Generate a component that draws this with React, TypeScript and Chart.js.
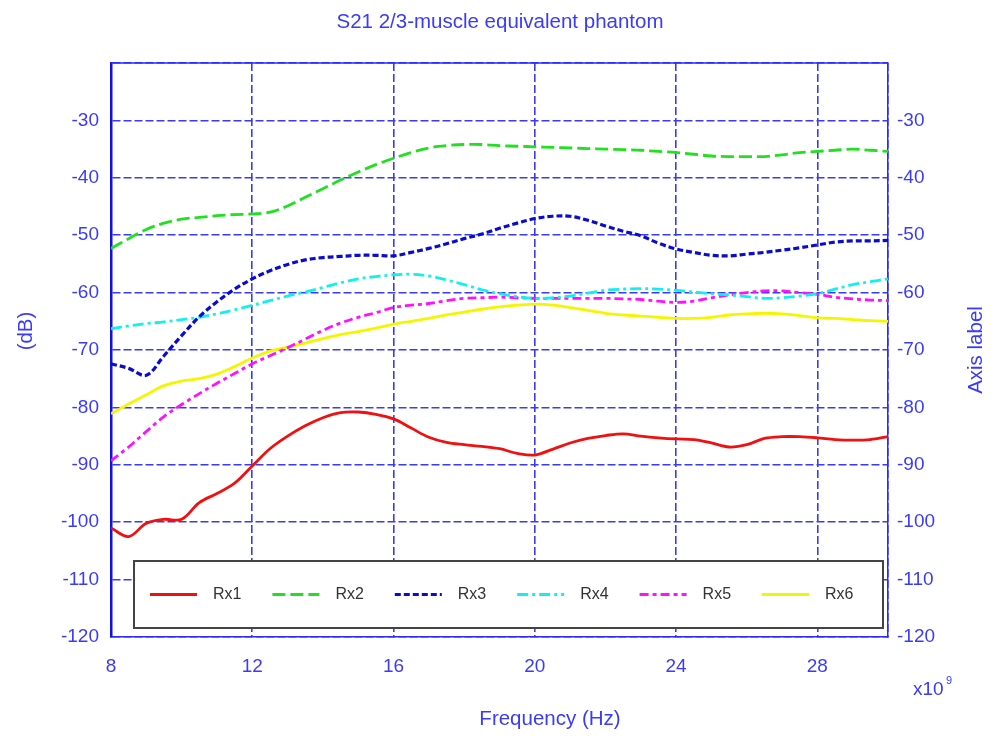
import { useEffect, useRef } from "react";
import Chart from "chart.js/auto";

// frequency in GHz (axis shows x10^9)
const freq = [
  8, 8.5, 9, 9.5, 10, 10.5, 11, 11.5, 12, 12.5, 13, 13.5, 14, 14.5, 15, 15.5,
  16, 16.5, 17, 17.5, 18, 18.5, 19, 19.5, 20, 20.5, 21, 21.5, 22, 22.5, 23,
  23.5, 24, 24.5, 25, 25.5, 26, 26.5, 27, 27.5, 28, 28.5, 29, 29.5, 30,
];

const rx1 = [
  -101.0, -102.5, -100.2, -99.5, -99.5, -96.6, -95.0, -93.2, -90.2, -87.2,
  -85.0, -83.2, -81.8, -80.9, -80.8, -81.2, -82.0, -83.6, -85.2, -86.1, -86.5,
  -86.8, -87.2, -88.0, -88.3, -87.3, -86.2, -85.4, -84.9, -84.6, -85.0, -85.3,
  -85.5, -85.6, -86.2, -86.9, -86.5, -85.4, -85.1, -85.1, -85.3, -85.6, -85.7,
  -85.6, -85.1,
];
const rx2 = [
  -52.3, -50.6, -49.0, -47.9, -47.2, -46.9, -46.6, -46.4, -46.3, -46.0, -44.9,
  -43.4, -41.9, -40.4, -39.0, -37.7, -36.6, -35.6, -34.8, -34.4, -34.2, -34.2,
  -34.4, -34.5, -34.6, -34.7, -34.8, -34.9, -35.0, -35.1, -35.2, -35.4, -35.6,
  -35.9, -36.2, -36.3, -36.3, -36.3, -36.0, -35.6, -35.4, -35.2, -35.0, -35.2,
  -35.4,
];
const rx3 = [
  -72.4, -73.2, -74.4, -71.0, -67.5, -64.2, -61.6, -59.4, -57.6, -56.2, -55.1,
  -54.3, -53.9, -53.7, -53.5, -53.5, -53.6, -53.0, -52.3, -51.5, -50.6, -49.8,
  -48.8, -47.9, -47.1, -46.7, -46.7, -47.4, -48.4, -49.3, -50.1, -51.4, -52.4,
  -53.0, -53.5, -53.6, -53.3, -53.0, -52.6, -52.2, -51.7, -51.2, -51.0, -51.0,
  -50.9,
];
const rx4 = [
  -66.3, -65.8, -65.4, -65.1, -64.7, -64.3, -63.7, -63.0, -62.2, -61.4, -60.6,
  -59.9, -59.1, -58.3, -57.6, -57.2, -56.9, -56.8, -57.1, -57.8, -58.6, -59.5,
  -60.2, -60.7, -61.0, -60.9, -60.6, -60.1, -59.6, -59.4, -59.3, -59.4, -59.6,
  -59.9, -60.2, -60.4, -60.7, -61.0, -60.9, -60.6, -60.2, -59.4, -58.6, -58.1,
  -57.6,
];
const rx5 = [
  -89.3, -86.9, -84.2, -81.6, -79.5, -77.6, -75.8, -74.1, -72.4, -71.0, -69.6,
  -68.1, -66.6, -65.3, -64.3, -63.5, -62.6, -62.2, -61.9, -61.4, -61.0, -60.9,
  -60.8, -60.9, -61.0, -61.0, -61.0, -61.0, -61.0, -61.1, -61.2, -61.5, -61.7,
  -61.5, -60.9, -60.4, -60.0, -59.7, -59.7, -60.0, -60.3, -60.8, -61.1, -61.3,
  -61.4,
];
const rx6 = [
  -81.1, -79.4, -77.8, -76.2, -75.4, -75.0, -74.2, -72.9, -71.4, -70.2, -69.5,
  -68.8, -68.0, -67.3, -66.8, -66.2, -65.5, -65.0, -64.5, -63.9, -63.4, -62.9,
  -62.5, -62.2, -62.0, -62.2, -62.6, -63.1, -63.6, -63.9, -64.1, -64.3, -64.5,
  -64.5, -64.3, -63.9, -63.7, -63.6, -63.7, -64.0, -64.4, -64.5, -64.7, -64.9,
  -65.0,
];

const seriesNames = ["Rx1", "Rx2", "Rx3", "Rx4", "Rx5", "Rx6"];
const seriesValues = [rx1, rx2, rx3, rx4, rx5, rx6];
const seriesColors = ["#f01010", "#20e020", "#0a0ad0", "#10f0f0", "#ff10ff", "#f5f500"];
const seriesDash = [[], [13, 5], [6, 3], [11, 4, 3, 4], [9, 4, 4, 4], []];
const seriesWidth = [2.8, 2.8, 3.2, 2.8, 2.8, 2.8];

const BLUE = "#3a3aff";
const FONT = "'Liberation Sans', Arial, sans-serif";

const framePlugin = {
  id: "frame",
  afterDatasetsDraw(chart: any) {
    const { ctx, chartArea: a } = chart;
    ctx.save();
    // top border
    ctx.strokeStyle = "#2a2aff";
    ctx.lineWidth = 1.5;
    ctx.beginPath();
    ctx.moveTo(a.left, a.top);
    ctx.lineTo(a.right, a.top);
    ctx.stroke();

    // legend box
    const bx = a.left + 23;
    const by = a.bottom - 76;
    const bw = a.right - 5 - bx;
    const bh = 67;
    ctx.fillStyle = "#ffffff";
    ctx.fillRect(bx, by, bw, bh);
    ctx.strokeStyle = "#444444";
    ctx.lineWidth = 2;
    ctx.strokeRect(bx, by, bw, bh);
    const cy = by + bh / 2;
    ctx.font = `16px ${FONT}`;
    ctx.textBaseline = "middle";
    chart.data.datasets.forEach((ds: any, i: number) => {
      const sx = bx + 16 + i * 122.4;
      ctx.strokeStyle = ds.borderColor;
      ctx.lineWidth = ds.borderWidth;
      ctx.setLineDash(ds.borderDash || []);
      ctx.beginPath();
      ctx.moveTo(sx, cy);
      ctx.lineTo(sx + 47, cy);
      ctx.stroke();
      ctx.setLineDash([]);
      ctx.fillStyle = "#333333";
      ctx.textAlign = "left";
      ctx.fillText(ds.label, sx + 63, cy);
    });

    // axis titles
    ctx.fillStyle = BLUE;
    ctx.font = `20.5px ${FONT}`;
    ctx.textAlign = "center";
    ctx.fillText("Frequency (Hz)", 550, 719);

    ctx.save();
    ctx.translate(26, 331);
    ctx.rotate(-Math.PI / 2);
    ctx.fillText("(dB)", 0, 0);
    ctx.restore();

    ctx.save();
    ctx.translate(976, (a.top + a.bottom) / 2);
    ctx.rotate(-Math.PI / 2);
    ctx.fillText("Axis label", 0, 0);
    ctx.restore();

    // exponent
    ctx.textAlign = "left";
    ctx.font = `19px ${FONT}`;
    ctx.fillText("x10", 913, 690);
    ctx.font = `11px ${FONT}`;
    ctx.fillText("9", 946, 681);
    ctx.restore();
  },
};

const App = () => {
  const chartRef = useRef<HTMLCanvasElement>(null);

  useEffect(() => {
    if (!chartRef.current) return;
    document.body.style.margin = "0";

    const datasets = seriesNames.map((name, i) => ({
      label: name,
      data: freq.map((f, j) => ({ x: f, y: seriesValues[i][j] })),
      borderColor: seriesColors[i],
      backgroundColor: seriesColors[i],
      borderWidth: seriesWidth[i],
      borderDash: seriesDash[i],
      pointRadius: 0,
      tension: 0.35,
      fill: false,
    }));

    const tickFont = { family: FONT, size: 19 };
    const gridOpts = { color: "#3a3aff", lineWidth: 1.6, drawTicks: false };

    const chart = new Chart(chartRef.current, {
      type: "line",
      data: { datasets },
      plugins: [framePlugin],
      options: {
        animation: false,
        responsive: false,
        layout: { padding: 0 },
        plugins: {
          legend: { display: false },
          tooltip: { enabled: false },
          title: {
            display: true,
            text: "S21 2/3-muscle equivalent phantom",
            color: BLUE,
            font: { family: FONT, size: 20.5, weight: "normal" },
            padding: { top: 10, bottom: 28.4 },
          },
        },
        scales: {
          x: {
            type: "linear",
            min: 8,
            max: 30,
            afterFit: (s: any) => {
              s.height = 109;
            },
            ticks: {
              stepSize: 4,
              color: BLUE,
              font: tickFont,
              padding: 18,
              maxRotation: 0,
              callback: (v: any) => (v % 4 === 0 ? v : ""),
            },
            grid: gridOpts,
            border: { color: "#2a2aff", width: 1.5, dash: [8, 3] },
          },
          y: {
            type: "linear",
            position: "left",
            min: -120,
            max: -20,
            afterFit: (s: any) => {
              s.width = 111;
            },
            ticks: {
              stepSize: 10,
              color: BLUE,
              font: tickFont,
              padding: 12,
              callback: (v: any) => (v === -20 ? "" : v),
            },
            grid: gridOpts,
            border: { color: "#1010e0", width: 2.5, dash: [8, 3] },
          },
          y2: {
            type: "linear",
            position: "right",
            min: -120,
            max: -20,
            afterFit: (s: any) => {
              s.width = 112;
            },
            ticks: {
              stepSize: 10,
              color: BLUE,
              font: tickFont,
              padding: 9,
              callback: (v: any) => (v === -20 ? "" : v),
            },
            grid: { display: false, drawTicks: false },
            border: { color: "#2a2aff", width: 1.5 },
          },
        },
      },
    });

    return () => {
      chart.destroy();
    };
  }, []);

  return (
    <div style={{ width: "1000px", height: "746px", background: "#fff" }}>
      <canvas ref={chartRef} width={1000} height={746} />
    </div>
  );
};

export default App;
